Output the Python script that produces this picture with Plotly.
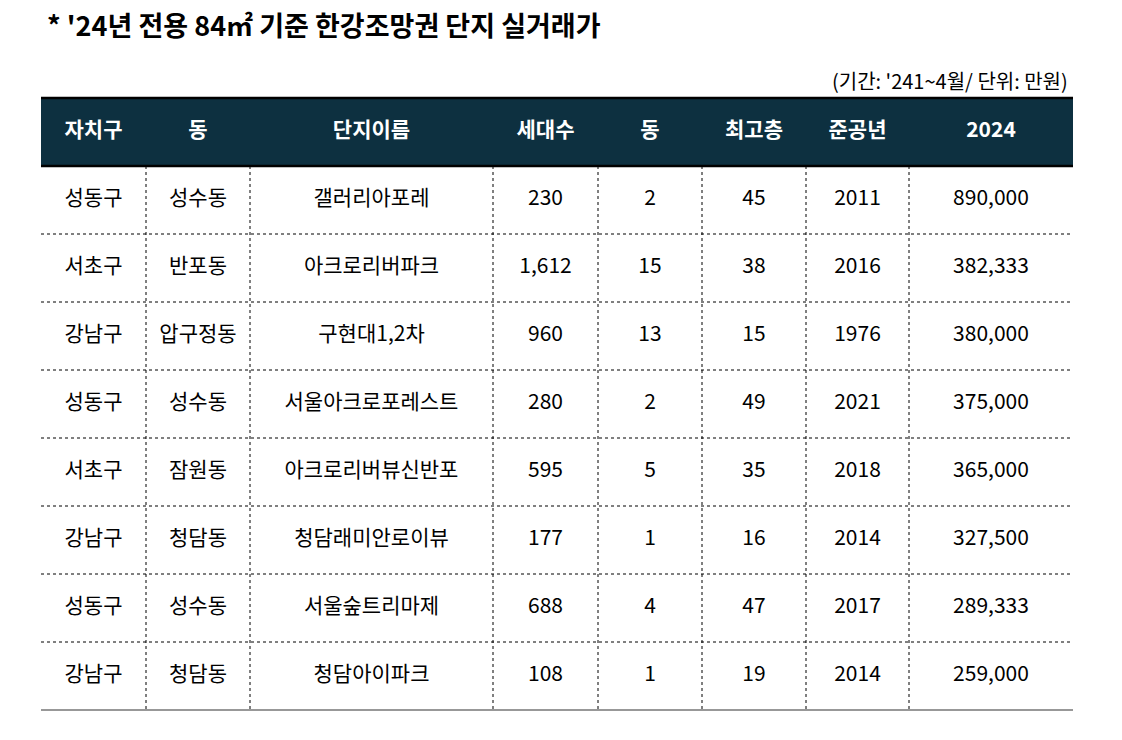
import plotly.graph_objects as go

# table data
headers = ['자치구', '동', '단지이름', '세대수', '동', '최고층', '준공년', '2024']
gu = ['성동구', '서초구', '강남구', '성동구', '서초구', '강남구', '성동구', '강남구']
dong = ['성수동', '반포동', '압구정동', '성수동', '잠원동', '청담동', '성수동', '청담동']
danji = ['갤러리아포레', '아크로리버파크', '구현대1,2차', '서울아크로포레스트', '아크로리버뷰신반포',
         '청담래미안로이뷰', '서울숲트리마제', '청담아이파크']
households = [230, 1612, 960, 280, 595, 177, 688, 108]
buildings = [2, 15, 13, 2, 5, 1, 4, 1]
top_floor = [45, 38, 15, 49, 35, 16, 47, 19]
built_year = [2011, 2016, 1976, 2021, 2018, 2014, 2017, 2014]
price_2024 = [890000, 382333, 380000, 375000, 365000, 327500, 289333, 259000]

columns = [gu, dong, danji,
           [f'{v:,}' for v in households], [str(v) for v in buildings],
           [str(v) for v in top_floor], [str(v) for v in built_year],
           [f'{v:,}' for v in price_2024]]

# layout geometry (pixels); page body adds an 8px offset
W, H = 1122, 740
off = 8
edges = [e - off for e in [41, 146, 250, 493, 598, 702, 806, 909, 1073]]
top_px, row_px = 98 - off, 68
n = len(gu)
y0 = -0.5 - top_px / row_px
y1 = -0.5 + (H - top_px) / row_px

font = 'Noto Sans CJK KR'
fig = go.Figure()
for j, col in enumerate(columns):
    xc = (edges[j] + edges[j + 1]) / 2
    fig.add_trace(go.Scatter(x=[xc] * n, y=list(range(1, n + 1)), text=col, mode='text',
                             textfont=dict(family=font, size=21, color='black'),
                             hoverinfo='skip', showlegend=False))
    fig.add_trace(go.Scatter(x=[xc], y=[0], text=[headers[j]], mode='text',
                             textfont=dict(family=font, size=21, color='white', weight='bold'),
                             hoverinfo='skip', showlegend=False))

shapes = [dict(type='rect', x0=edges[0], x1=edges[-1], y0=-0.5, y1=0.5,
               fillcolor='#0d3040', line=dict(width=0), layer='below')]
for yy in (-0.5, 0.5):
    shapes.append(dict(type='line', x0=edges[0], x1=edges[-1], y0=yy, y1=yy,
                       line=dict(color='black', width=2.5)))
for i in range(1, n):
    shapes.append(dict(type='line', x0=edges[0], x1=edges[-1], y0=i + 0.5, y1=i + 0.5,
                       line=dict(color='black', width=1, dash='dot')))
shapes.append(dict(type='line', x0=edges[0], x1=edges[-1], y0=n + 0.5, y1=n + 0.5,
                   line=dict(color='#333', width=1.2)))
for e in edges[1:-1]:
    shapes.append(dict(type='line', x0=e, x1=e, y0=0.5, y1=n + 0.5,
                       line=dict(color='black', width=1, dash='dot')))

fig.update_layout(
    width=W, height=H, margin=dict(l=0, r=0, t=0, b=0),
    plot_bgcolor='white', paper_bgcolor='white', shapes=shapes,
    xaxis=dict(range=[0, W], visible=False, fixedrange=True),
    yaxis=dict(range=[y1, y0], visible=False, fixedrange=True),
    annotations=[
        dict(text="* '24년 전용 84㎡ 기준 한강조망권 단지 실거래가", xref='paper', yref='paper',
             x=(45 - off) / W, y=1 - (25 - off) / H, xanchor='left', yanchor='middle', showarrow=False,
             font=dict(family=font, size=27, color='black', weight='bold')),
        dict(text="(기간: '241~4월/ 단위: 만원)", xref='paper', yref='paper',
             x=(1070 - off) / W, y=1 - (80 - off) / H, xanchor='right', yanchor='middle', showarrow=False,
             font=dict(family=font, size=20, color='black')),
    ],
)
fig.write_html('out.html')
